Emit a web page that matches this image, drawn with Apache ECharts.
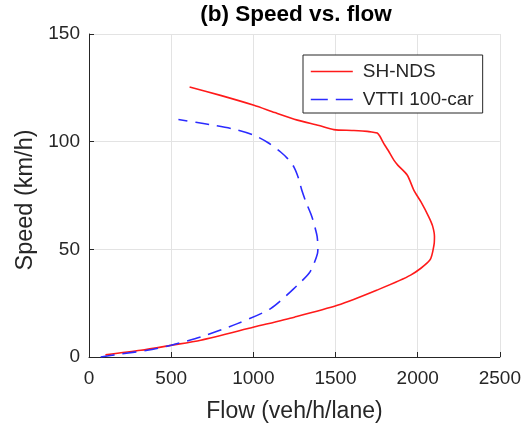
<!DOCTYPE html>
<html>
<head>
<meta charset="utf-8">
<script src="https://cdn.jsdelivr.net/npm/echarts@6/dist/echarts.min.js"></script>
<style>html,body{margin:0;padding:0;background:#fff;}#c{width:524px;height:430px;}</style>
</head>
<body>
<div id="c"></div>
<script>
var titleText = '(b) Speed vs. flow';
var xName = 'Flow (veh/h/lane)';
var yName = 'Speed (km/h)';
var seriesNames = ['SH-NDS', 'VTTI 100-car'];
var xTicks = [0, 500, 1000, 1500, 2000, 2500];
var yTicks = [0, 50, 100, 150];

var shFlow  = [100, 315, 497, 680, 1004, 1250, 1511, 1750, 1957, 2074, 2099, 2102, 2090, 2068, 2020, 1977, 1937, 1880, 1855, 1820, 1794, 1770, 1754, 1720, 1693, 1600, 1490, 1400, 1268, 1130, 1004, 800, 612];
var shSpeed = [1, 3.1, 5.4, 7.8, 13.9, 18.5, 24, 31, 38, 45, 52, 56, 61, 65, 72, 77.4, 84.4, 89, 91.4, 96, 99.1, 102.5, 104, 104.5, 104.8, 105.2, 105.6, 107.5, 110, 113.5, 116.9, 121.5, 125.4];

var vtFlow  = [71, 200, 355, 500, 680, 903, 1105, 1268, 1340, 1369, 1390, 1393, 1388, 1379, 1365, 1349, 1320, 1295, 1275, 1247, 1210, 1166, 1090, 1004, 900, 760, 650, 544];
var vtSpeed = [0, 1.5, 3.1, 5.5, 9.3, 15.5, 22.5, 33.3, 39, 43.4, 48, 51.1, 56, 59, 63, 66.6, 72, 77.4, 83, 88.2, 92, 95.2, 99.5, 103, 105.5, 107.6, 109, 110.3];

function pairs(xs, ys) { return xs.map(function (x, i) { return [x, ys[i]]; }); }

var chart = echarts.init(document.getElementById('c'), null, {renderer: 'canvas'});
var font = 'Liberation Sans, Arial, Helvetica, sans-serif';
var axisColor = '#262626';
chart.setOption({
  animation: false,
  backgroundColor: '#fff',
  graphic: [{
    type: 'text', x: 296, y: 15,
    style: {text: titleText, fontSize: 22.5, fontWeight: 'bold', fontFamily: font, fill: '#000',
            align: 'center', verticalAlign: 'middle'}
  }],
  grid: {left: 89, right: 24, top: 34, bottom: 73, containLabel: false},
  legend: {
    show: true,
    left: 303, top: 55, orient: 'vertical',
    backgroundColor: '#fff', borderColor: '#262626', borderWidth: 1, borderRadius: 0,
    padding: [7, 9, 4, 7], itemGap: 9, itemWidth: 42, itemHeight: 19,
    itemStyle: {opacity: 0},
    lineStyle: {width: 1.6},
    textStyle: {fontSize: 19, fontFamily: font, color: '#262626', padding: [0, 0, 0, 5]},
    data: [
      {name: seriesNames[0]},
      {name: seriesNames[1], lineStyle: {type: [17, 8], width: 1.6}}
    ]
  },
  xAxis: {
    type: 'value', min: xTicks[0], max: xTicks[xTicks.length - 1], interval: 500,
    name: xName, nameLocation: 'middle', nameGap: 43,
    nameTextStyle: {fontSize: 23, fontFamily: font, color: '#262626'},
    axisLine: {show: true, lineStyle: {color: axisColor, width: 1}},
    axisTick: {show: true, inside: true, length: 5, lineStyle: {color: axisColor}},
    axisLabel: {fontSize: 19, fontFamily: font, color: '#262626', margin: 12, formatter: function (v) { return String(v); }},
    splitLine: {show: true, lineStyle: {color: '#e3e3e3', width: 1}}
  },
  yAxis: {
    type: 'value', min: yTicks[0], max: yTicks[yTicks.length - 1], interval: 50,
    name: yName, nameLocation: 'middle', nameGap: 50, nameRotate: 90,
    nameTextStyle: {fontSize: 23.5, fontFamily: font, color: '#262626', padding: [0, 9, 0, 0]},
    axisLine: {show: true, lineStyle: {color: axisColor, width: 1}},
    axisTick: {show: true, inside: true, length: 5, lineStyle: {color: axisColor}},
    axisLabel: {fontSize: 19, fontFamily: font, color: '#262626', margin: 9, formatter: function (v) { return String(v); }},
    splitLine: {show: true, lineStyle: {color: '#e3e3e3', width: 1}}
  },
  series: [
    {
      name: seriesNames[0], type: 'line', data: pairs(shFlow, shSpeed),
      showSymbol: false, symbol: 'none', smooth: 0.25,
      lineStyle: {color: '#ff1a1a', width: 1.6, type: 'solid'},
      itemStyle: {color: '#ff1a1a'}, z: 3
    },
    {
      name: seriesNames[1], type: 'line', data: pairs(vtFlow, vtSpeed),
      showSymbol: false, symbol: 'none', smooth: 0.25,
      lineStyle: {color: '#2b2bff', width: 1.6, type: [14, 8]},
      itemStyle: {color: '#2b2bff'}, z: 4
    }
  ]
});
</script>
</body>
</html>
